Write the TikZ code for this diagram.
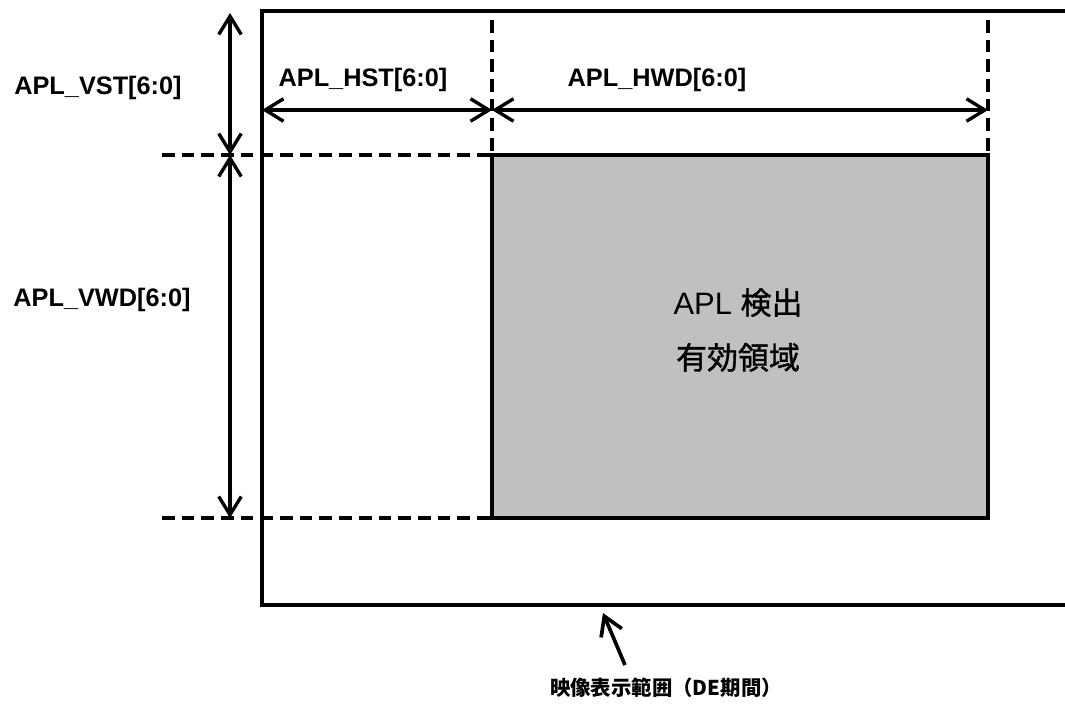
\documentclass[tikz,border=0pt]{standalone}
\usepackage{fontspec}
\setmainfont{Liberation Sans}
\newfontfamily\jp{Noto Sans CJK JP}
\newfontfamily\jpmid{Noto Sans CJK JP}[FakeBold=1.2]
\usepackage{xcolor}
\definecolor{areagray}{RGB}{192, 192, 192}
\usetikzlibrary{arrows.meta, positioning}

\begin{document}
\begin{tikzpicture}[x=0.025cm, y=-0.025cm,
  frame/.style={line width=2.4pt},
  guide/.style={line width=3pt, dash pattern=on 9pt off 5pt},
  dim/.style={line width=2.4pt, {Straight Barb[length=13pt,width=16pt]}-{Straight Barb[length=13pt,width=16pt]}},
  pointer/.style={line width=2.6pt, -{Straight Barb[length=13pt,width=16pt]}},
  lbl/.style={font=\bfseries\fontsize{18}{20}\selectfont}]
  \useasboundingbox (0,0) rectangle (1065,704);

  % Display area (open to the right)
  \draw[frame] (1065,11) -- (262,11) -- (262,605) -- (1065,605);

  % APL detection area
  \draw[frame, fill=areagray] (492,155) rectangle (988,518);
  \node[align=center, font=\fontsize{22}{39}\selectfont] (area) at (738,330)
    {APL {\jpmid 検出}\\{\jpmid 有効領域}};

  % Guide lines
  \draw[guide] (162,155) -- (492,155);
  \draw[guide] (162,518) -- (492,518);
  \draw[guide] (492,20) -- (492,155);
  \draw[guide] (988,20) -- (988,155);

  % Dimension points
  \coordinate (vtop) at (230,13);
  \coordinate (vmid) at (230,155);
  \coordinate (vbot) at (230,518);
  \coordinate (hl) at (262,110);
  \coordinate (hm) at (492,110);
  \coordinate (hr) at (988,110);

  % Dimension arrows
  \draw[dim] (vtop) -- (vmid);
  \draw[dim] (vmid) -- (vbot);
  \draw[dim] (hl) -- (hm);
  \draw[dim] (hm) -- (hr);

  % Labels
  \node[lbl] (vst) at (98,88) {APL\_VST[6:0]};
  \node[lbl] (vwd) at (102,300) {APL\_VWD[6:0]};
  \node[lbl] (hst) at (363,80) {APL\_HST[6:0]};
  \node[lbl] (hwd) at (657,80) {APL\_HWD[6:0]};

  % Display range note
  \node[font=\jp\bfseries\fontsize{14.5}{16}\selectfont] (note) at (666,688) {映像表示範囲（DE期間）};
  \coordinate (tail) at (625,665);
  \coordinate (tip) at (603,613);
  \draw[pointer] (tail) -- (tip);

\end{tikzpicture}
\end{document}
